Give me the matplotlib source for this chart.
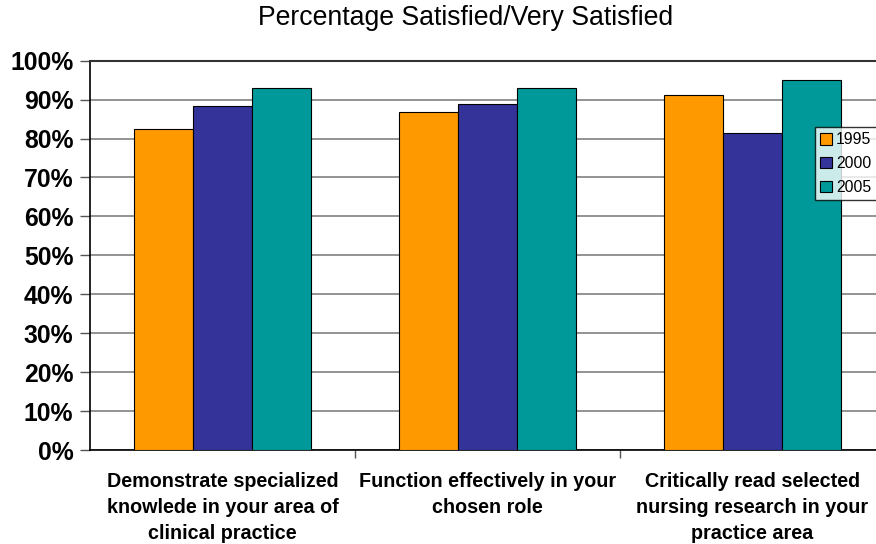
import numpy as np
import matplotlib
matplotlib.use("Agg")
import matplotlib.pyplot as plt
import matplotlib.ticker as mtick

categories = ["Demonstrate specialized\nknowlede in your area of\nclinical practice",
              "Function effectively in your\nchosen role",
              "Critically read selected\nnursing research in your\npractice area"]
years = ["1995", "2000", "2005"]
v1995 = [0.825, 0.869, 0.913]
v2000 = [0.884, 0.890, 0.815]
v2005 = [0.930, 0.930, 0.950]
colors = ["#FF9900", "#333399", "#009999"]

plt.rcParams['font.family'] = ['Liberation Sans', 'DejaVu Sans']

fig = plt.figure(figsize=(8.76, 5.44), dpi=100)
# plot area runs past the right edge of the picture, like the original
ax = fig.add_axes([90/876, 94/544, 795/876, 389.3/544])

x = np.arange(len(categories))
width = 1/4.5
for i, vals in enumerate([v1995, v2000, v2005]):
    ax.bar(x + (i-1)*width, vals, width, color=colors[i], edgecolor='black',
           linewidth=0.8, label=years[i], zorder=3)

ax.set_xlim(-0.5, 2.5)
ax.set_ylim(0, 1)
ax.set_yticks(np.arange(0, 1.01, 0.1))
ax.yaxis.set_major_formatter(mtick.PercentFormatter(1.0, decimals=0))
ax.yaxis.grid(True, color='#808080', linewidth=1.2, zorder=0)
for lab in ax.get_yticklabels():
    lab.set_fontweight('bold')
    lab.set_fontsize(17.8)
ax.tick_params(axis='y', length=7, width=1, pad=5, color='#555555')

ax.set_xticks(x)
ax.set_xticklabels(categories, fontsize=14.2, fontweight='bold', linespacing=1.47)
ax.tick_params(axis='x', which='major', length=0, pad=15.5)
ax.set_xticks([0.5, 1.5], minor=True)
ax.tick_params(axis='x', which='minor', length=6, width=1, color='#555555')

ax.spines['right'].set_visible(False)
ax.spines['top'].set_color('#333333')
ax.spines['top'].set_linewidth(1.5)
for s in ['left', 'bottom']:
    ax.spines[s].set_color('black')
    ax.spines[s].set_linewidth(1.2)

fig.text(465.5/876, 1 - 18/544, "Percentage Satisfied/Very Satisfied",
         ha='center', va='center', fontsize=19.2)

leg = fig.legend(loc='upper left', bbox_to_anchor=(815/876, 1 - 127/544),
                 fontsize=11.3, frameon=True, fancybox=False, borderpad=0.35,
                 handlelength=0.75, handleheight=0.75, handletextpad=0.25,
                 labelspacing=0.55, borderaxespad=0)
leg.get_frame().set_edgecolor('black')
leg.get_frame().set_linewidth(1)

fig.savefig("out.png", dpi=100)
